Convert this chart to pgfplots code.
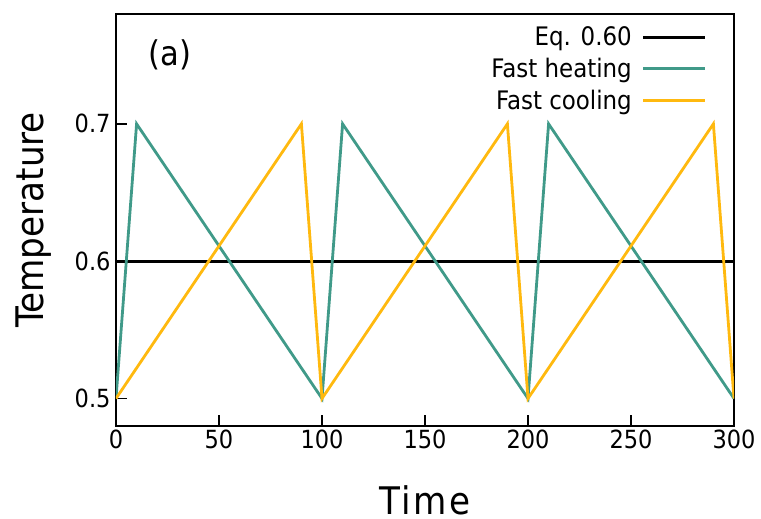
\documentclass[border=0pt]{standalone}
\usepackage{fontspec}
\setmainfont{DejaVu Sans Condensed}
\usepackage{pgfplots}
\pgfplotsset{compat=1.18}
\definecolor{myteal}{RGB}{64,154,137}
\definecolor{myyellow}{RGB}{255,185,15}
\begin{document}
\begin{tikzpicture}
\path[use as bounding box] (-116pt,-93pt) rectangle (645pt,426pt);
\begin{axis}[
  at={(0pt,0pt)}, anchor=origin,
  scale only axis, width=618pt, height=412pt,
  xmin=0, xmax=300, ymin=0.48, ymax=0.78,
  xtick={0,50,...,300}, ytick={0.5,0.6,0.7},
  xtick pos=bottom, ytick pos=left,
  tick align=inside, major tick length=11pt,
  tick style={line width=1.4pt, black},
  axis line style={line width=1.8pt},
  ticklabel style={font=\fontsize{25}{28}\selectfont},
  yticklabel style={xshift=-2pt},
  /pgf/number format/assume math mode=true,
  yticklabel style={/pgf/number format/fixed, /pgf/number format/precision=1, /pgf/number format/fixed zerofill},
  xlabel={\addfontfeature{LetterSpace=6}Time}, ylabel={Temperature},
  label style={font=\fontsize{38}{42}\selectfont},
  xlabel style={at={(axis description cs:0.5,-0.214)}, anchor=base, inner sep=0pt},
  ylabel style={at={(axis description cs:-0.133,0.5)}, anchor=center},
  legend style={draw=none, fill=none, at={(rel axis cs:0.956,0.974)}, anchor=north east,
    font=\fontsize{25.5}{28}\selectfont, row sep=7pt, inner sep=0pt},
  legend cell align=right,
  legend plot pos=right,
  legend image code/.code={\draw[#1] (0pt,0pt) -- (62pt,0pt);},
]
\addplot[black, line width=2.8pt] coordinates {(0,0.6) (300,0.6)};
\addlegendentry{Eq. 0.60\hspace*{8pt}}
\addplot[myteal, line width=2.8pt] coordinates {(0,0.5) (10,0.7) (100,0.5) (110,0.7) (200,0.5) (210,0.7) (300,0.5)};
\addlegendentry{Fast heating\hspace*{8pt}}
\addplot[myyellow, line width=2.8pt] coordinates {(0,0.5) (90,0.7) (100,0.5) (190,0.7) (200,0.5) (290,0.7) (300,0.5)};
\addlegendentry{Fast cooling\hspace*{8pt}}
\node[font=\fontsize{34}{38}\selectfont] at (rel axis cs:0.087,0.90) {(a)};
\end{axis}
\end{tikzpicture}
\end{document}
